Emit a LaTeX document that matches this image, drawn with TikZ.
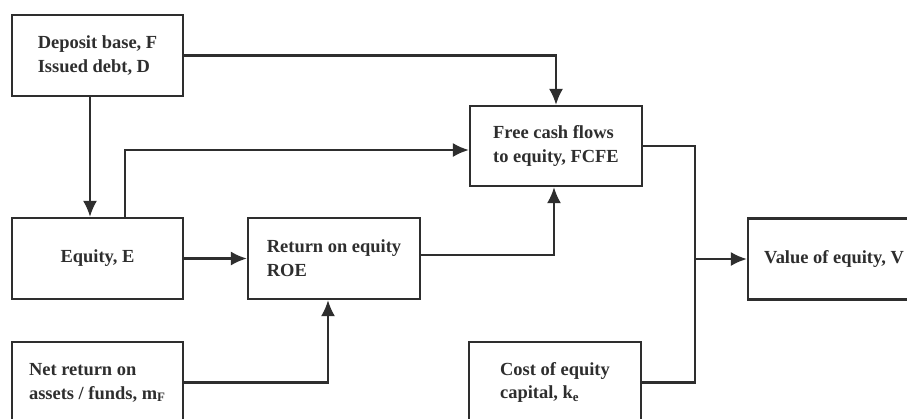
\documentclass[tikz,border=0pt]{standalone}
\usepackage{fontspec}
\setmainfont{Liberation Serif}
\usepackage{tikz}
\usetikzlibrary{positioning,arrows.meta}
\definecolor{inkgray}{HTML}{2E2E2E}
\tikzset{
  flowarrow/.style={-{Latex[length=3.2mm, width=2.8mm]}, line width=1.25pt, draw=inkgray},
  flowline/.style={line width=1.25pt, draw=inkgray},
  factorbox/.style={draw=inkgray, line width=1.25pt, fill=white, minimum width=3.42cm, minimum height=1.62cm, align=left, inner sep=2pt}
}

\begin{document}
\begin{tikzpicture}[>=Latex, every node/.style={font=\fontsize{10.5}{13.6}\selectfont\bfseries, text=inkgray}]
      \useasboundingbox[fill=white] (0,0) rectangle (18.14,-8.36);
      \node[factorbox] (deposit) at (1.95,-1.11) {Deposit base, F\\Issued debt, D};
      \node[factorbox] (equity) at (1.95,-5.17) {Equity, E};
      \node[factorbox, minimum width=3.44cm] (roe) at (6.68,-5.17) {Return on equity\\ROE};
      \node[factorbox] (netret) at (1.95,-7.65) {Net return on\\assets / funds, m\textsubscript{F}};
      \node[factorbox, minimum width=3.44cm, minimum height=1.6cm] (fcfe) at (11.12,-2.92) {Free cash flows\\to equity, FCFE};
      \node[factorbox, minimum width=3.44cm] (costeq) at (11.1,-7.65) {Cost of equity\\capital, k\textsubscript{e}};
      \node[factorbox, minimum width=3.44cm] (value) at (16.68,-5.18) {Value of equity, V};
      \coordinate (join) at (13.9,-5.18);
      \draw[flowarrow] (deposit.east) -| (fcfe.north);
      \draw[flowarrow] ([xshift=-0.15cm]deposit.south) -- ([xshift=-0.15cm]equity.north);
      \draw[flowarrow] ([xshift=0.55cm]equity.north) |- ([yshift=-0.08cm]fcfe.west);
      \draw[flowarrow] (equity.east) -- (roe.west);
      \draw[flowarrow] ([yshift=0.07cm]roe.east) -| ([xshift=-0.04cm]fcfe.south);
      \draw[flowarrow] (netret.east) -| ([xshift=-0.12cm]roe.south);
      \draw[flowline] (fcfe.east) -| (join) |- (costeq.east);
      \draw[flowarrow] (join) -- (value.west);
    \end{tikzpicture}
\end{document}
